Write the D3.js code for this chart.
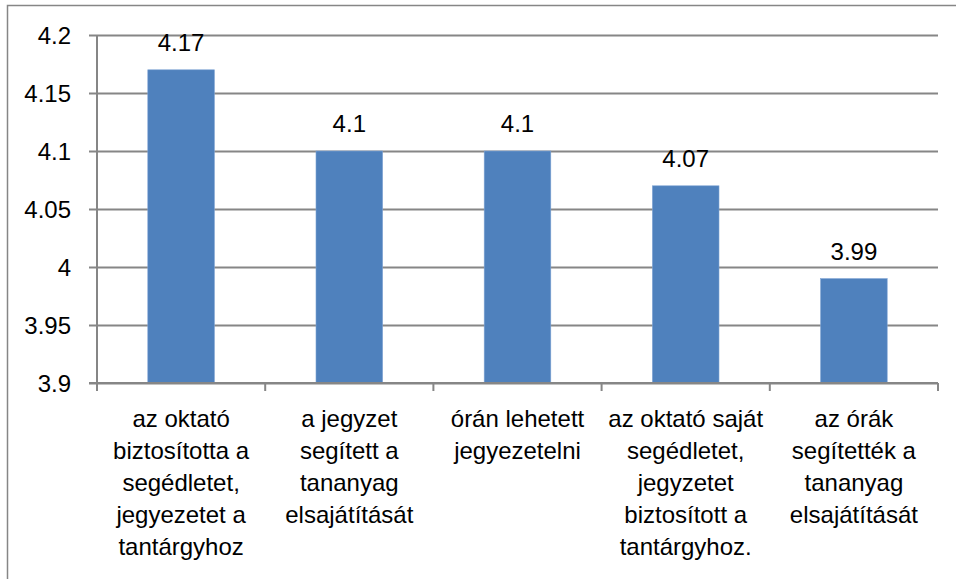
<!DOCTYPE html>
<html>
<head>
<meta charset="utf-8">
<script src="https://cdn.jsdelivr.net/npm/d3@7"></script>
<style>
  body { margin: 0; background: #fff; }
  text { font-family: "Liberation Sans", Arial, sans-serif; fill: #000; }
</style>
</head>
<body>
<script>
const categories = [
  'az oktató\nbiztosította a\nsegédletet,\njegyezetet a\ntantárgyhoz',
  'a jegyzet\nsegített a\ntananyag\nelsajátítását',
  'órán lehetett\njegyezetelni',
  'az oktató saját\nsegédletet,\njegyzetet\nbiztosított a\ntantárgyhoz.',
  'az órák\nsegítették a\ntananyag\nelsajátítását'
];
const values = [4.17, 4.1, 4.1, 4.07, 3.99];
const yTicks = [3.9, 3.95, 4, 4.05, 4.1, 4.15, 4.2];

const width = 956, height = 579;
const plot = {left: 97, right: 938, top: 35, bottom: 383};
const gray = '#868686';

const svg = d3.select('body').append('svg')
    .attr('width', width)
    .attr('height', height);

// cadre du graphique
svg.append('rect')
    .attr('x', 7.5).attr('y', 5.5)
    .attr('width', 980).attr('height', 620)
    .attr('fill', 'none')
    .attr('stroke', gray)
    .attr('stroke-width', 1.5);

const x = d3.scaleBand()
    .domain(d3.range(categories.length))
    .range([plot.left, plot.right])
    .paddingInner(0.604)
    .paddingOuter(0.302);

const y = d3.scaleLinear()
    .domain([3.9, 4.2])
    .range([plot.bottom, plot.top]);

// lignes de grille + ticks
const yAxis = d3.axisLeft(y)
    .tickValues(yTicks)
    .tickSize(-(plot.right - plot.left))
    .tickFormat(d => d3.format('')(+d.toFixed(2)));

const gy = svg.append('g')
    .attr('transform', 'translate(' + plot.left + ',0)')
    .call(yAxis);
gy.select('.domain').remove();
gy.selectAll('.tick line')
    .attr('x1', -8)
    .attr('stroke', gray)
    .attr('stroke-width', 2);
gy.selectAll('.tick text')
    .attr('x', -26)
    .attr('dy', '0.35em')
    .style('font-size', '24px')
    .style('font-family', '"Liberation Sans", Arial, sans-serif')
    .attr('fill', '#000');

// barres
svg.selectAll('.bar')
    .data(values)
    .enter().append('rect')
    .attr('class', 'bar')
    .attr('x', (d, i) => x(i))
    .attr('y', d => y(d))
    .attr('width', x.bandwidth())
    .attr('height', d => y(3.9) - y(d))
    .attr('fill', '#4F81BD')
    .attr('stroke', '#7FA3D3')
    .attr('stroke-width', 0.6);

// axe vertical
svg.append('line')
    .attr('x1', plot.left).attr('x2', plot.left)
    .attr('y1', plot.top).attr('y2', plot.bottom + 8)
    .attr('stroke', gray).attr('stroke-width', 2);

// axe horizontal
svg.append('line')
    .attr('x1', plot.left - 8).attr('x2', plot.right)
    .attr('y1', plot.bottom).attr('y2', plot.bottom)
    .attr('stroke', gray).attr('stroke-width', 2);

const step = x.step();
svg.selectAll('.xtick')
    .data(categories)
    .enter().append('line')
    .attr('class', 'xtick')
    .attr('x1', (d, i) => x(i) - step * 0.302 + step)
    .attr('x2', (d, i) => x(i) - step * 0.302 + step)
    .attr('y1', plot.bottom)
    .attr('y2', plot.bottom + 8)
    .attr('stroke', gray).attr('stroke-width', 2);

// etiquettes des valeurs
svg.selectAll('.val')
    .data(values)
    .enter().append('text')
    .attr('class', 'val')
    .attr('x', (d, i) => x(i) + x.bandwidth() / 2)
    .attr('y', d => y(d) - 19)
    .attr('text-anchor', 'middle')
    .style('font-size', '24px')
    .text(d => d);

// etiquettes des categories (multi-lignes)
const labels = svg.selectAll('.cat')
    .data(categories)
    .enter().append('text')
    .attr('class', 'cat')
    .attr('text-anchor', 'middle')
    .style('font-size', '24px');

labels.each(function(d, i) {
  const cx = x(i) + x.bandwidth() / 2;
  d.split('\n').forEach((line, j) => {
    d3.select(this).append('tspan')
        .attr('x', cx)
        .attr('y', 427 + j * 32)
        .text(line);
  });
});
</script>
</body>
</html>
